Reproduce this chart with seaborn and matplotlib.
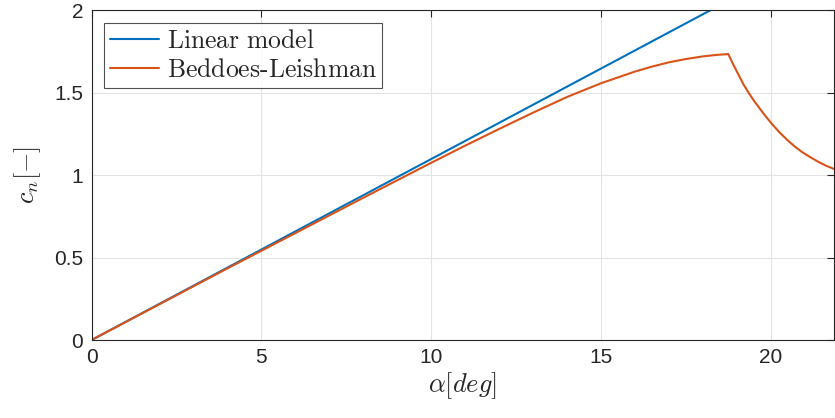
import numpy as np
import pandas as pd
import matplotlib
matplotlib.use("Agg")
import matplotlib.pyplot as plt
import seaborn as sns

# Data
alpha_linear = [0.0, 22.0]
cn_linear = [0.0, 2.413]

alpha_bl = [0.0, 2.0, 4.0, 6.0, 8.0, 9.0, 10.0, 11.0, 12.0, 13.0, 14.0, 15.0,
            16.0, 16.5, 17.0, 17.5, 18.0, 18.4, 18.75, 18.9, 19.07, 19.2, 19.36,
            19.5, 19.7, 19.85, 20.02, 20.25, 20.5, 20.7, 20.93, 21.15, 21.4, 21.6, 21.86]
cn_bl = [0.0, 0.217, 0.434, 0.648, 0.862, 0.968, 1.074, 1.178, 1.279, 1.378, 1.473, 1.556,
         1.627, 1.657, 1.683, 1.703, 1.719, 1.728, 1.733, 1.668, 1.60, 1.548, 1.495,
         1.452, 1.396, 1.356, 1.313, 1.260, 1.210, 1.174, 1.138, 1.110, 1.080, 1.059, 1.037]

xticks = [0, 5, 10, 15, 20]
xticklabels = ["0", "5", "10", "15", "20"]
yticks = [0, 0.5, 1, 1.5, 2]
yticklabels = ["0", "0.5", "1", "1.5", "2"]
series_names = [r"$\mathrm{Linear\ model}$", r"$\mathrm{Beddoes\text{-}Leishman}$"]

sns.set_style("white")
plt.rcParams["font.family"] = ["Liberation Sans", "DejaVu Sans"]
plt.rcParams["mathtext.fontset"] = "cm"

df = pd.concat([
    pd.DataFrame({"alpha": alpha_linear, "cn": cn_linear, "model": "lin"}),
    pd.DataFrame({"alpha": alpha_bl, "cn": cn_bl, "model": "bl"}),
])

fig = plt.figure(figsize=(8.35, 4.18), dpi=100)
ax = fig.add_axes([0.1097, 0.1866, 0.889, 0.7894])

colors = {"lin": "#0072BD", "bl": "#D95319"}
sns.lineplot(data=df, x="alpha", y="cn", hue="model", palette=colors,
             linewidth=1.5, ax=ax, sort=False, estimator=None)

ax.set_xlim(0, 21.86)
ax.set_ylim(0, 2)
ax.set_xticks(xticks)
ax.set_xticklabels(xticklabels)
ax.set_yticks(yticks)
ax.set_yticklabels(yticklabels)
ax.grid(True, color="#e3e3e3", linewidth=0.8)
ax.set_axisbelow(True)

for s in ax.spines.values():
    s.set_visible(True)
    s.set_color("#262626")
    s.set_linewidth(0.8)
ax.tick_params(direction="in", length=5, width=0.8, top=True, right=True,
               labelsize=15, colors="#262626", pad=6)

ax.set_xlabel(r"$\alpha[deg]$", fontsize=19, color="#262626", labelpad=2)
ax.set_ylabel(r"$c_n[-]$", fontsize=19, color="#262626", labelpad=8)

handles, _ = ax.get_legend_handles_labels()
leg = ax.legend(handles, series_names, loc="upper left", fontsize=18.5,
                frameon=True, fancybox=False, edgecolor="#262626",
                borderpad=0.22, handlelength=1.9, handletextpad=0.3,
                labelspacing=0.22, borderaxespad=0.5)
leg.get_frame().set_linewidth(0.8)

fig.savefig("out.png", dpi=100)
